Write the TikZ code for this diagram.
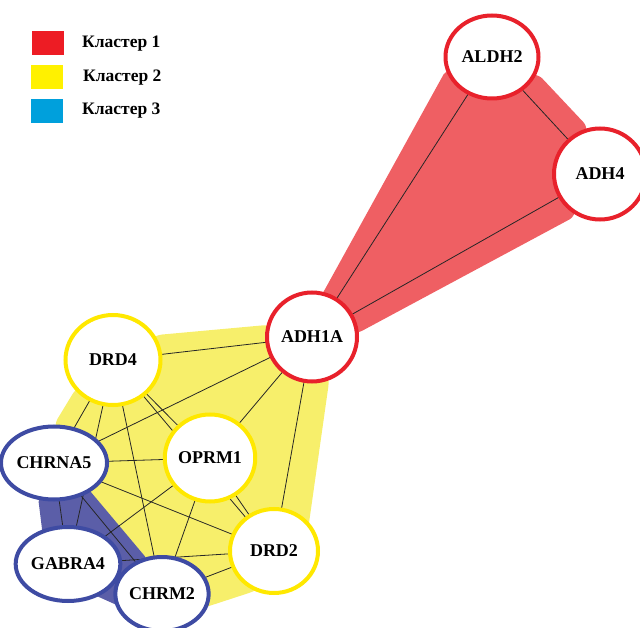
\documentclass[tikz,border=0pt]{standalone}
\usepackage{fontspec}
\setmainfont{Liberation Serif}
\usetikzlibrary{shapes.geometric}
\definecolor{hullred}{HTML}{EF5F63}
\definecolor{hullyellow}{HTML}{F7EF6B}
\definecolor{hullblue}{HTML}{5B5EA8}
\definecolor{bred}{HTML}{E8212B}
\definecolor{byellow}{HTML}{FFE800}
\definecolor{bblue}{HTML}{3E4BA3}
\definecolor{lred}{HTML}{ED1C24}
\definecolor{lyellow}{HTML}{FFF100}
\definecolor{lblue}{HTML}{00A0DC}
\pgfdeclarelayer{hull}
\pgfdeclarelayer{edge}
\pgfsetlayers{hull,edge,main}
\tikzset{
  gnode/.style={ellipse, fill=white, line width=4pt, inner sep=0pt,
    font=\fontsize{18}{18}\selectfont\bfseries},
  rnode/.style={gnode, draw=bred},
  ynode/.style={gnode, draw=byellow},
  bnode/.style={gnode, draw=bblue},
  link/.style={line width=0.8pt, draw=black!85},
  hullshape/.style={rounded corners=5pt},
  legbox/.style={minimum width=32pt, minimum height=24pt, inner sep=0pt},
  legtext/.style={anchor=west, inner sep=0pt, font=\fontsize{17.5}{17.5}\selectfont\bfseries}
}
\begin{document}
\begin{tikzpicture}[x=1pt,y=-1pt]
\useasboundingbox (0,0) rectangle (640,628);
% hulls
\begin{pgfonlayer}{hull}
\fill[hullyellow, hullshape] (55,423) -- (75,390) -- (157,335) -- (267,325) -- (320,330) -- (329,382) -- (308,530) -- (290,575) -- (252,592) -- (203,608) -- (170,622) -- (120,560) -- (60,470) -- cycle;
\fill[hullblue, hullshape] (38,497) -- (44,545) -- (90,593) -- (130,611) -- (148,560) -- (85,485) -- cycle;
\fill[hullred, hullshape] (324,291) -- (446,70) -- (539,75) -- (587,126) -- (574,217) -- (358,333) -- (300,330) -- cycle;
\end{pgfonlayer}
% nodes
\node[rnode, minimum width=93pt, minimum height=83pt] (ALDH2) at (492,57) {ALDH2};
\node[rnode, minimum width=92pt, minimum height=91pt] (ADH4) at (600,174) {ADH4};
\node[rnode, minimum width=90pt, minimum height=89pt] (ADH1A) at (312,337) {ADH1A};
\node[ynode, minimum width=95pt, minimum height=90pt] (DRD4) at (113,360) {DRD4};
\node[ynode, minimum width=90pt, minimum height=87pt] (OPRM1) at (210,458) {OPRM1};
\node[ynode, minimum width=88pt, minimum height=84pt] (DRD2) at (274,551) {DRD2};
\node[bnode, minimum width=81pt, minimum height=73pt] (CHRNA5) at (54,463) {CHRNA5};
\node[bnode, minimum width=83pt, minimum height=74pt] (GABRA4) at (68,564) {GABRA4};
\node[bnode, minimum width=81pt, minimum height=74pt] (CHRM2) at (162,594) {CHRM2};
% edges
\begin{pgfonlayer}{edge}
\foreach \a/\b in {ADH1A/ALDH2, ADH1A/ADH4, ALDH2/ADH4,
  ADH1A/DRD4, ADH1A/CHRNA5, ADH1A/OPRM1, ADH1A/DRD2,
  DRD4/CHRNA5, DRD4/GABRA4, DRD4/CHRM2, DRD4/OPRM1, DRD4/DRD2,
  CHRNA5/OPRM1, CHRNA5/DRD2, CHRNA5/CHRM2, CHRNA5/GABRA4,
  OPRM1/GABRA4, OPRM1/CHRM2, OPRM1/DRD2,
  GABRA4/CHRM2, GABRA4/DRD2, CHRM2/DRD2}
  \draw[link] (\a.center) -- (\b.center);
\end{pgfonlayer}
% legend
\node[legbox, fill=lred] (L1) at (48,43) {};
\node[legbox, fill=lyellow] (L2) at (47,77) {};
\node[legbox, fill=lblue] (L3) at (47,111) {};
\node[legtext] (T1) at (82,44) {Кластер 1};
\node[legtext] (T2) at (83,78) {Кластер 2};
\node[legtext] (T3) at (82,111) {Кластер 3};
\end{tikzpicture}
\end{document}
